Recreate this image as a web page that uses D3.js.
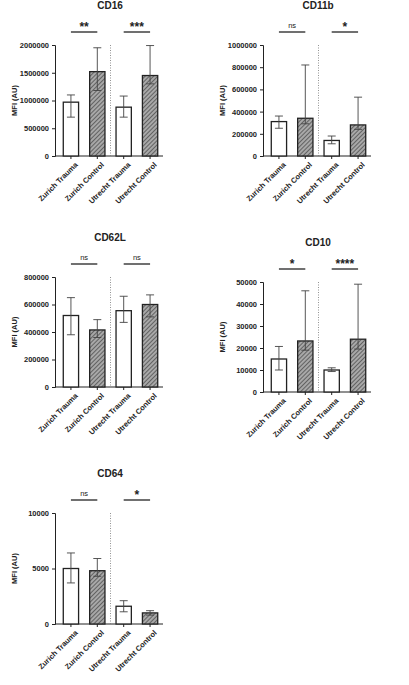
<!DOCTYPE html>
<html><head><meta charset="utf-8">
<script src="https://cdn.jsdelivr.net/npm/d3@7"></script>
<style>body{margin:0;background:#fff}svg{font-family:"Liberation Sans",Arial,sans-serif}</style>
</head><body><div id="chart"></div>
<script>
const groups = ["Zurich Trauma", "Zurich Control", "Utrecht Trauma", "Utrecht Control"];
const markers = ["CD16", "CD11b", "CD62L", "CD10", "CD64"];
const yMax = [2000000, 1000000, 800000, 50000, 10000];
const yTicks = [
  [0, 500000, 1000000, 1500000, 2000000],
  [0, 200000, 400000, 600000, 800000, 1000000],
  [0, 200000, 400000, 600000, 800000],
  [0, 10000, 20000, 30000, 40000, 50000],
  [0, 5000, 10000]
];
const means = [
  [970000, 1520000, 880000, 1450000],
  [310000, 340000, 140000, 280000],
  [520000, 415000, 555000, 600000],
  [15000, 23200, 10000, 24000],
  [5000, 4800, 1600, 1000]
];
const lows = [
  [700000, 1180000, 700000, 1300000],
  [250000, 290000, 110000, 240000],
  [380000, 360000, 470000, 510000],
  [10000, 19000, 9300, 19500],
  [3700, 4300, 1100, 800]
];
const highs = [
  [1100000, 1950000, 1080000, 1990000],
  [360000, 820000, 180000, 530000],
  [650000, 490000, 660000, 670000],
  [20700, 46000, 11000, 49000],
  [6400, 5900, 2100, 1200]
];
const sigs = [["**", "***"], ["ns", "*"], ["ns", "ns"], ["*", "****"], ["ns", "*"]];

// panel placement: axis x, plot top, plot bottom
const panels = [
  {x: 55, top: 45, bottom: 156},
  {x: 263, top: 45, bottom: 156},
  {x: 55, top: 277, bottom: 387},
  {x: 263, top: 282, bottom: 392},
  {x: 55, top: 513, bottom: 624}
];

const svg = d3.select("#chart").append("svg").attr("width", 409).attr("height", 685);
const defs = svg.append("defs");
const pat = defs.append("pattern").attr("id", "hatch").attr("patternUnits", "userSpaceOnUse")
  .attr("width", 3).attr("height", 3).attr("patternTransform", "rotate(45)");
pat.append("rect").attr("width", 3).attr("height", 3).attr("fill", "#a8a8a8");
pat.append("line").attr("x1", 0).attr("y1", 0).attr("x2", 0).attr("y2", 3)
  .attr("stroke", "#444").attr("stroke-width", 1.4);

const fmt = d3.format("d");
const ink = "#222";

markers.forEach((m, i) => {
  const p = panels[i];
  const g = svg.append("g");
  const x = d3.scaleBand().domain(groups).range([p.x + 3, p.x + 108]).paddingInner(0.42).paddingOuter(0.2);
  const y = d3.scaleLinear().domain([0, yMax[i]]).range([p.bottom, p.top]);
  const bw = x.bandwidth();

  g.append("text").attr("x", p.x + 55).attr("y", p.top - 36).attr("text-anchor", "middle")
    .attr("font-weight", "bold").attr("font-size", 10).attr("fill", ink).text(m);

  const ya = g.append("g").attr("transform", `translate(${p.x},0)`)
    .call(d3.axisLeft(y).tickValues(yTicks[i]).tickFormat(fmt).tickSize(3));
  ya.selectAll("text").attr("font-size", 7.5).attr("font-weight", "bold").attr("fill", ink);
  ya.selectAll("line,path").attr("stroke", ink);

  const xa = g.append("g").attr("transform", `translate(0,${p.bottom})`)
    .call(d3.axisBottom(x).tickSize(3).tickSizeOuter(0));
  xa.select("path").attr("d", `M${p.x},0H${p.x + 108}`).attr("stroke", ink);
  xa.selectAll("line").attr("stroke", ink);
  xa.selectAll("text").attr("font-size", 7.5).attr("font-weight", "bold").attr("fill", ink)
    .attr("text-anchor", "end").attr("dy", 0).attr("transform", "translate(3,5) rotate(-45)");

  g.append("text").attr("transform", `translate(${p.x - 38},${(p.top + p.bottom) / 2}) rotate(-90)`)
    .attr("text-anchor", "middle").attr("font-size", 7.5).attr("font-weight", "bold").attr("fill", ink).text("MFI (AU)");

  // dotted separator
  const sepX = (x(groups[1]) + bw + x(groups[2])) / 2;
  g.append("line").attr("x1", sepX).attr("x2", sepX).attr("y1", p.top).attr("y2", p.bottom)
    .attr("stroke", "#777").attr("stroke-dasharray", "1,1.5").attr("stroke-width", 0.8);

  const d = groups.map((k, j) => ({k, j, v: means[i][j], lo: lows[i][j], hi: highs[i][j]}));
  const bars = g.selectAll(".b").data(d).join("g");
  bars.append("rect").attr("x", e => x(e.k)).attr("width", bw)
    .attr("y", e => y(e.v)).attr("height", e => y(0) - y(e.v))
    .attr("fill", e => e.j % 2 ? "url(#hatch)" : "#fff").attr("stroke", ink).attr("stroke-width", 1.3);
  bars.append("line").attr("x1", e => x(e.k) + bw / 2).attr("x2", e => x(e.k) + bw / 2)
    .attr("y1", e => y(e.lo)).attr("y2", e => y(e.hi)).attr("stroke", "#444").attr("stroke-width", 0.9);
  ["lo", "hi"].forEach(key => bars.append("line")
    .attr("x1", e => x(e.k) + bw / 2 - 4).attr("x2", e => x(e.k) + bw / 2 + 4)
    .attr("y1", e => y(e[key])).attr("y2", e => y(e[key])).attr("stroke", "#444").attr("stroke-width", 0.9));

  // significance
  [0, 1].forEach(s => {
    const a = x(groups[2 * s]) + bw / 2, b = x(groups[2 * s + 1]) + bw / 2;
    const sy = p.top - 13;
    g.append("line").attr("x1", a).attr("x2", b).attr("y1", sy).attr("y2", sy)
      .attr("stroke", ink).attr("stroke-width", 1.3);
    const ns = sigs[i][s] === "ns";
    g.append("text").attr("x", (a + b) / 2).attr("y", ns ? sy - 4 : sy - 1).attr("text-anchor", "middle")
      .attr("font-size", ns ? 7.5 : 12).attr("font-weight", ns ? "normal" : "bold").attr("fill", ink).text(sigs[i][s]);
  });
});
</script></body></html>
